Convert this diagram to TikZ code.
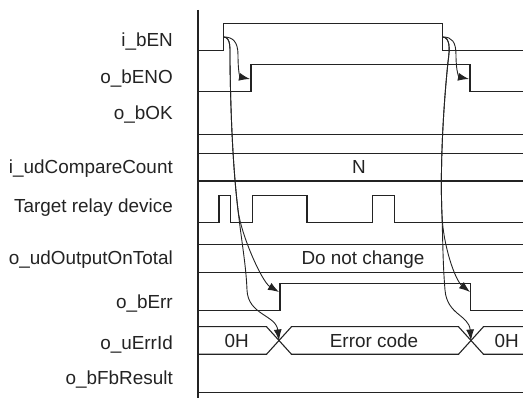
\documentclass[tikz,border=0pt]{standalone}
\usepackage{fontspec}
\setmainfont{Liberation Sans}
\usetikzlibrary{arrows.meta,positioning}
\definecolor{ink}{RGB}{35,35,35}

\begin{document}
\begin{tikzpicture}[x=1pt, y=-1pt,
    wave/.style={ink, line width=1.1pt},
    flow/.style={ink, line width=0.9pt, -{Latex[length=11pt,width=8pt]}},
    sig/.style={anchor=base east, font=\fontsize{18.9}{21}\selectfont, text=ink, inner sep=0pt},
    val/.style={anchor=base, font=\fontsize{18.9}{21}\selectfont, text=ink, inner sep=0pt}]
    \useasboundingbox (0,0) rectangle (523,398);

    % Axis
    \draw[wave, line width=1.3pt] (198,10) -- (198,398);

    % Signal names
    \foreach \txt/\y [count=\i] in {i\_bEN/46.7, o\_bENO/83.3, o\_bOK/120,
        i\_udCompareCount/173.3, Target relay device/212.7, o\_udOutputOnTotal/265,
        o\_bErr/309, o\_uErrId/349.3, o\_bFbResult/385} {
        \node[sig] (lab\i) at (173,\y) {\txt};
    }

    % Waveforms
    \draw[wave] (198,50.7) -- (223.7,50.7) -- (223.7,23.3) -- (442.7,23.3) -- (442.7,50.7) -- (523,50.7);
    \draw[wave] (198,91.7) -- (251,91.7) -- (251,64.3) -- (470,64.3) -- (470,91.7) -- (523,91.7);
    \draw[wave] (198,134.3) -- (523,134.3);
    \draw[wave] (198,153.3) -- (523,153.3) (198,181) -- (523,181);
    \node[val] (cnt) at (359,173.3) {N};
    \draw[wave] (198,222.7) -- (219,222.7) -- (219,195.7) -- (230.3,195.7) -- (230.3,222.7)
        -- (252.3,222.7) -- (252.3,195.7) -- (307,195.7) -- (307,222.7)
        -- (372.7,222.7) -- (372.7,195.7) -- (394.3,195.7) -- (394.3,222.7) -- (523,222.7);
    \draw[wave] (198,244.3) -- (523,244.3) (198,272.3) -- (523,272.3);
    \node[val] (total) at (363,265) {Do not change};
    \draw[wave] (198,310.7) -- (280,310.7) -- (280,283.3) -- (470.7,283.3) -- (470.7,310.7) -- (523,310.7);
    \draw[wave] (198,326.7) -- (266.5,326.7) -- (291.5,354.3) -- (458.5,354.3) -- (483.5,326.7) -- (523,326.7);
    \draw[wave] (198,354.3) -- (266.5,354.3) -- (291.5,326.7) -- (458.5,326.7) -- (483.5,354.3) -- (523,354.3);
    \node[val] (id1) at (236.7,347.3) {0H};
    \node[val] (id2) at (374,347.3) {Error code};
    \node[val] (id3) at (506.7,347.3) {0H};
    \draw[wave] (198,392.7) -- (523,392.7);

    % Cause and effect
    \coordinate (enL) at (224,37);
    \coordinate (enR) at (443,37);
    \coordinate (enoL) at (250,79);
    \coordinate (enoR) at (469,79);
    \coordinate (errL) at (279,292);
    \coordinate (errR) at (470,292);
    \coordinate (idL) at (279,340.5);
    \coordinate (idR) at (471,340.5);

    \draw[flow] (enL) .. controls (233,37) and (238,42) .. (238,55)
        .. controls (238,72) and (240,77) .. (enoL);
    \draw[flow] (enL) .. controls (231,38) and (230,48) .. (230,62)
        .. controls (231,140) and (235,185) .. (238,210)
        .. controls (241,235) and (262,282) .. (errL);
    \draw[flow] (enL) .. controls (231,38) and (230,48) .. (230,62)
        .. controls (231,140) and (235,185) .. (238,210)
        .. controls (242,245) and (246,265) .. (247,290)
        .. controls (248,315) and (276,315) .. (idL);

    \draw[flow] (enR) .. controls (452,37) and (456,42) .. (456,55)
        .. controls (456,72) and (459,77) .. (enoR);
    \draw[flow] (enR) .. controls (450,38) and (450,48) .. (448,62)
        .. controls (443,110) and (440,170) .. (442,215)
        .. controls (443,245) and (455,280) .. (errR);
    \draw[flow] (enR) .. controls (450,38) and (450,48) .. (448,62)
        .. controls (443,110) and (440,170) .. (442,215)
        .. controls (443,250) and (443,265) .. (445,290)
        .. controls (447,315) and (469,315) .. (idR);
\end{tikzpicture}
\end{document}
